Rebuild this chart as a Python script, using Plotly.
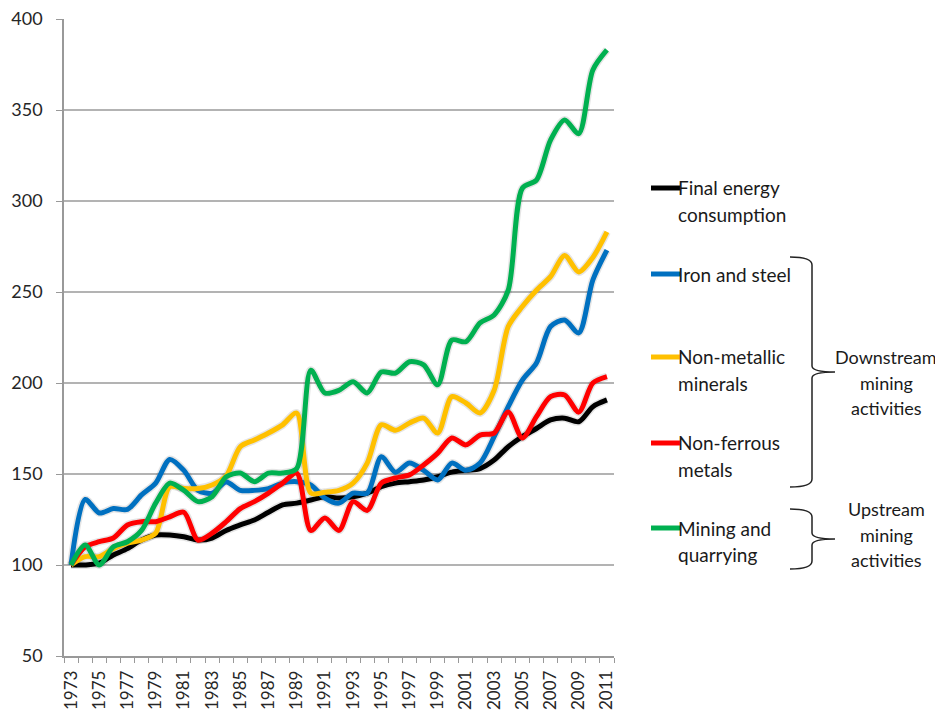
import plotly.graph_objects as go

years = list(range(1973, 2012))

final_energy = [100, 100, 101, 105.5, 109, 113.7, 116.5, 116.5, 115.5, 113.7, 114.8, 119, 122,
                124.7, 129, 133, 134, 135.7, 137.5, 136.8, 137.5, 139.5, 143, 145, 145.8, 146.7, 148.5,
                151, 152, 153, 157.7, 165, 170.5, 175, 179.7, 180.7, 178.7, 187, 190.7]
iron_steel = [100, 136, 128.6, 131, 130.6, 138.5, 145, 158, 152, 141, 139.5, 145.6, 141,
              141, 142, 145, 145.8, 144, 136.8, 134, 139.5, 139.5, 159.5, 151, 156, 152, 146.7,
              156, 152, 156, 170.5, 187, 201.6, 211, 231, 234.6, 227.5, 256.6, 273]
non_metallic = [100, 104.6, 104.6, 109, 112, 113.7, 117.5, 143, 142, 142, 144, 149, 165,
                168.7, 172.5, 177, 183.5, 139.5, 140, 141, 145, 156, 177, 174, 178, 180.7, 172.5,
                192.5, 189, 183.5, 196, 231, 242, 251, 258.4, 270, 261, 269, 283]
non_ferrous = [100, 110, 112.8, 114.8, 122, 123.8, 123.8, 126.5, 129, 113.7, 117.5, 123.8, 131,
               134.8, 139.5, 145, 150.5, 119, 125.8, 119, 134.8, 130, 145, 147.8, 149.5, 155, 161.5,
               169.8, 166, 171.4, 172.5, 184, 169.8, 181.5, 192.5, 193.4, 184, 200, 203.5]
mining = [100, 111, 100, 110, 112.8, 119, 134, 145, 141, 134.8, 137.5, 148.5, 150.5,
          145.8, 150.5, 150.5, 153, 207, 194.5, 196, 200.7, 194.5, 206, 205.4, 211.7, 210, 199,
          223.6, 222.7, 233, 237.4, 251, 307, 311.5, 333.5, 344.5, 337, 372, 383]

series = [
    ("Final energy consumption", final_energy, "#000000"),
    ("Iron and steel", iron_steel, "#0070C0"),
    ("Non-metallic minerals", non_metallic, "#FFC000"),
    ("Non-ferrous metals", non_ferrous, "#FF0000"),
    ("Mining and quarrying", mining, "#00B050"),
]

legend_rows = [
    (["Final energy", "consumption"], "#000000", 188),
    (["Iron and steel"], "#0070C0", 274),
    (["Non-metallic", "minerals"], "#FFC000", 357),
    (["Non-ferrous", "metals"], "#FF0000", 443),
    (["Mining and", "quarrying"], "#00B050", 528),
]

OFF = 8  # page body margin
W, H = 935, 702
L, T = 56, 11
PW, PH = 550, 637
R, B = W - L - PW, H - T - PH


def px(x):
    return (x - OFF - L) / PW


def py(y):
    return (T + PH - (y - OFF)) / PH


fig = go.Figure()
for name, vals, col in series:
    fig.add_trace(go.Scatter(x=years, y=vals, mode="lines", showlegend=False, hoverinfo="skip",
                             line=dict(color="rgba(0,0,0,0.10)", width=8, shape="spline", smoothing=0.8)))
for name, vals, col in series:
    fig.add_trace(go.Scatter(x=years, y=vals, mode="lines", name=name, showlegend=False,
                             line=dict(color=col, width=5, shape="spline", smoothing=0.8)))

font = "Lato"
shapes = []
annotations = []
for lines, col, y in legend_rows:
    shapes.append(dict(type="line", xref="paper", yref="paper", x0=px(651), x1=px(680),
                       y0=py(y), y1=py(y), line=dict(color=col, width=5)))
    for k, t in enumerate(lines):
        annotations.append(dict(xref="paper", yref="paper", x=px(679), y=py(y + 26 * k),
                                text=t, showarrow=False, xanchor="left", yanchor="middle",
                                xshift=-3, font=dict(family=font, size=19, color="#1a1a1a")))


def brace(top, mid, bot, xl=790, xv=812, xp=835):
    return (f"M {px(xl)},{py(top)} Q {px(xv)},{py(top)} {px(xv)},{py(top + 8)} "
            f"L {px(xv)},{py(mid - 6)} Q {px(xv)},{py(mid)} {px(xp)},{py(mid)} "
            f"Q {px(xv)},{py(mid)} {px(xv)},{py(mid + 6)} "
            f"L {px(xv)},{py(bot - 8)} Q {px(xv)},{py(bot)} {px(xl)},{py(bot)}")


shapes.append(dict(type="path", xref="paper", yref="paper", path=brace(257, 372, 487),
                   line=dict(color="#222", width=1.5)))
shapes.append(dict(type="path", xref="paper", yref="paper", path=brace(509, 539, 569),
                   line=dict(color="#222", width=1.5)))

for t, y in [("Downstream", 357), ("mining", 383), ("activities", 408),
             ("Upstream", 509), ("mining", 535), ("activities", 560)]:
    annotations.append(dict(xref="paper", yref="paper", x=px(886), y=py(y), text=t,
                            showarrow=False, xanchor="center", yanchor="middle",
                            font=dict(family=font, size=18, color="#1a1a1a")))

fig.update_layout(
    width=W, height=H,
    margin=dict(l=L, r=R, t=T, b=B, autoexpand=False),
    plot_bgcolor="white", paper_bgcolor="white",
    shapes=shapes, annotations=annotations,
    font=dict(family=font, color="#222"),
)
fig.update_xaxes(
    automargin=False,
    range=[1972.5, 2011.5], tickmode="array", tickvals=years[::2],
    ticktext=[str(y) for y in years[::2]], tickangle=-90, ticks="",
    tickfont=dict(family=font, size=17, color="#262626"), showgrid=False, showline=True,
    linecolor="#999", linewidth=1.5, zeroline=False, ticklabelstandoff=6,
    ticklabeloverflow="allow",
    minor=dict(tickmode="array", tickvals=[y - 0.5 for y in years] + [2011.5],
               ticks="outside", ticklen=5, tickcolor="#999", showgrid=False),
)
fig.update_yaxes(
    automargin=False,
    range=[50, 400], tickmode="linear", tick0=50, dtick=50, ticks="outside", ticklen=6,
    tickcolor="#999", tickfont=dict(family=font, size=18, color="#262626"), showgrid=True,
    gridcolor="#b3b3b3", gridwidth=1.5, showline=True, linecolor="#999", linewidth=1.5,
    zeroline=False, ticklabelstandoff=10, ticklabeloverflow="allow",
)

fig.write_html("out.html")
